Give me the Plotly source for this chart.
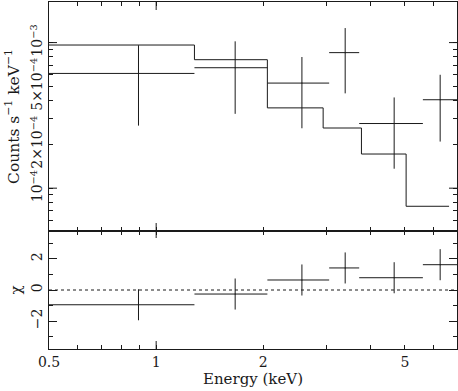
import math
import plotly.graph_objects as go
from plotly.subplots import make_subplots

# data channels (keV)
bin_lo = [0.5, 1.281, 2.053, 3.062, 3.718, 5.614]
bin_hi = [1.281, 2.053, 3.062, 3.718, 5.614, 7.0]
energy = [0.892, 1.667, 2.567, 3.396, 4.662, 6.278]
counts = [6.14e-4, 6.72e-4, 5.27e-4, 8.53e-4, 2.78e-4, 4.05e-4]
counts_err = [3.45e-4, 3.48e-4, 2.69e-4, 4.05e-4, 1.42e-4, 1.96e-4]

# folded model (step)
model_edges = [0.5, 1.281, 2.053, 2.945, 3.773, 5.037, 6.65]
model = [9.62e-4, 7.63e-4, 3.56e-4, 2.59e-4, 1.716e-4, 7.51e-5]

# residuals
chi = [-0.95, -0.26, 0.645, 1.42, 0.79, 1.63]
chi_err = [1, 1, 1, 1, 1, 1]

# axis ticks
x_ticks = [0.5, 1, 2, 5]
x_ticktext = ['0.5', '1', '2', '5']
x_minor = [0.6, 0.7, 0.8, 0.9, 3, 4, 6, 7]
x_decades = [1]
y_ticks = [1e-4, 2e-4, 5e-4, 1e-3]
y_ticktext = ['10<sup>\u22124</sup>', '2\u00d710<sup>\u22124</sup>', '5\u00d710<sup>\u22124</sup>', '10<sup>\u22123</sup>']
y_minor = [6e-5, 7e-5, 8e-5, 9e-5, 3e-4, 4e-4, 6e-4, 7e-4, 8e-4, 9e-4]
y_decades = [1e-4, 1e-3]
chi_ticks = [-2, 0, 2]
chi_ticktext = ['\u22122', '0', '2']
chi_minor = [-3, -1, 1, 3]

xerr_plus = [h - e for h, e in zip(bin_hi, energy)]
xerr_minus = [e - l for l, e in zip(bin_lo, energy)]

ink = '#1a1a1a'
face = 'DejaVu Serif'

fig = make_subplots(rows=2, cols=1, shared_xaxes=True, vertical_spacing=0,
                    row_heights=[229, 118])

fig.add_trace(go.Scatter(x=energy, y=counts, mode='markers',
                         marker=dict(size=1, color=ink),
                         error_x=dict(type='data', symmetric=False, array=xerr_plus, arrayminus=xerr_minus,
                                      width=0, thickness=1, color=ink),
                         error_y=dict(type='data', array=counts_err, width=0, thickness=1, color=ink)),
              row=1, col=1)

fig.add_trace(go.Scatter(x=model_edges, y=model + [model[-1]], mode='lines', line_shape='hv',
                         line=dict(color=ink, width=1)), row=1, col=1)

fig.add_trace(go.Scatter(x=energy, y=chi, mode='markers',
                         marker=dict(size=1, color=ink),
                         error_x=dict(type='data', symmetric=False, array=xerr_plus, arrayminus=xerr_minus,
                                      width=0, thickness=1, color=ink),
                         error_y=dict(type='data', array=chi_err, width=0, thickness=1, color=ink)),
              row=2, col=1)

fig.add_hline(y=0, line=dict(dash='dot', width=1, color=ink), row=2, col=1)

axis_style = dict(showline=True, linecolor=ink, linewidth=1, mirror='ticks',
                  ticks='inside', ticklen=4, tickcolor=ink, tickwidth=1,
                  showgrid=False, zeroline=False, automargin=False,
                  tickfont=dict(family=face, size=14, color=ink))

xrange = [math.log10(0.5), math.log10(7.0)]
fig.update_xaxes(type='log', range=xrange, tickvals=x_ticks, ticktext=x_ticktext,
                 minor=dict(tickvals=x_minor, ticks='inside', ticklen=4, tickcolor=ink, showgrid=False),
                 **axis_style)
fig.update_xaxes(title=dict(text='Energy (keV)', standoff=3, font=dict(family=face, size=15, color=ink)),
                 row=2, col=1)

fig.update_yaxes(type='log', range=[math.log10(5.08e-5), math.log10(1.9e-3)],
                 tickvals=y_ticks, ticktext=y_ticktext, tickangle=-90,
                 minor=dict(tickvals=y_minor, ticks='inside', ticklen=4, tickcolor=ink, showgrid=False),
                 title=dict(text='Counts s<sup>\u22121</sup> keV<sup>\u22121</sup>', standoff=4,
                            font=dict(family=face, size=15.5, color=ink)),
                 row=1, col=1, **axis_style)

fig.update_yaxes(range=[-3.8, 3.8], tickvals=chi_ticks, ticktext=chi_ticktext, tickangle=-90,
                 minor=dict(tickvals=chi_minor, ticks='inside', ticklen=4, tickcolor=ink, showgrid=False),
                 title=dict(text='\u03c7', standoff=4, font=dict(family=face, size=15, color=ink)),
                 row=2, col=1, **axis_style)
fig.update_yaxes(ticklen=8, row=2, col=1)

# longer ticks at the decades
split = fig.layout.yaxis2.domain[1]
for xv in x_decades:
    for anchor, y0, y1 in [(1, 0, -8), (split, -7, 8), (0, 0, 8)]:
        fig.add_shape(type='line', xref='x', yref='paper', x0=xv, x1=xv,
                      ysizemode='pixel', yanchor=anchor, y0=y0, y1=y1,
                      line=dict(color=ink, width=1))
for yv in y_decades:
    for anchor, x0, x1 in [(0, 0, 8), (1, 0, -8)]:
        fig.add_shape(type='line', xref='paper', yref='y', y0=yv, y1=yv,
                      xsizemode='pixel', xanchor=anchor, x0=x0, x1=x1,
                      line=dict(color=ink, width=1))

fig.update_layout(width=458, height=391, margin=dict(l=49, r=1, t=2, b=42),
                  plot_bgcolor='white', paper_bgcolor='white', showlegend=False,
                  font=dict(family=face, size=14, color=ink))

fig.write_html('out.html', config={'displayModeBar': False},
               post_script="document.body.style.margin='0';")
